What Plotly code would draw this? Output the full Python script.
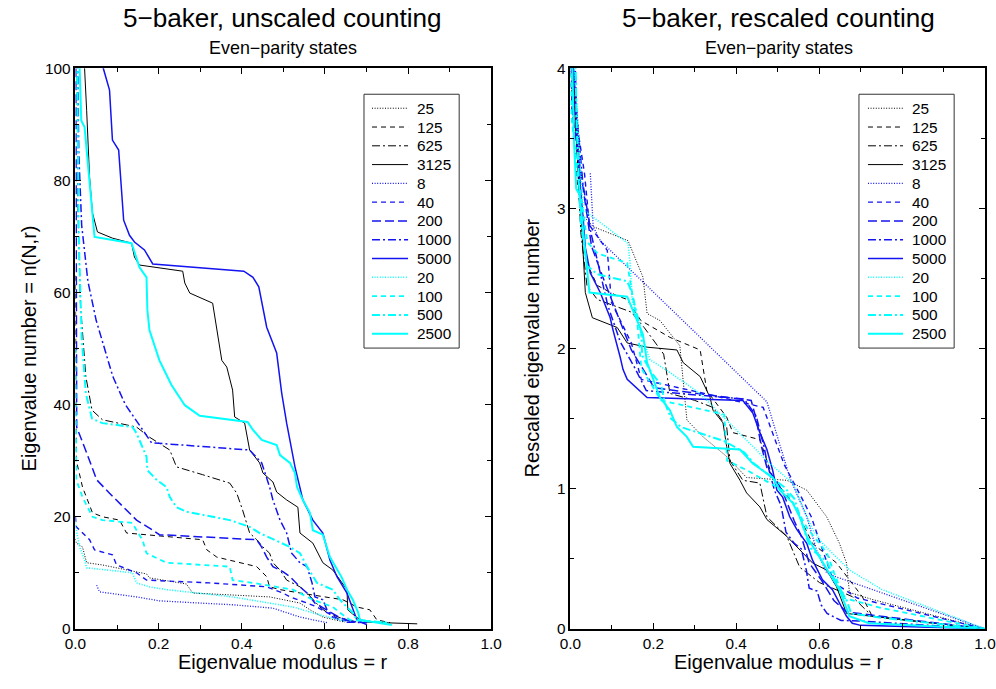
import plotly.graph_objects as go

# ---------------- data: left panel (unscaled counting) ----------------
left_r_25 = [0.0, 0.002, 0.017, 0.027, 0.065, 0.171, 0.178, 0.267, 0.282, 0.467, 0.540, 0.564, 0.595, 0.648]
left_n_25 = [16, 15.3, 14.6, 11.8, 11.4, 9.8, 9.1, 8.0, 6.4, 5.7, 4.6, 3.4, 2.1, 1.2]
left_r_125 = [0.0, 0.001, 0.002, 0.017, 0.041, 0.065, 0.106, 0.123, 0.171, 0.306, 0.316, 0.340, 0.436, 0.460, 0.467, 0.492, 0.540, 0.643, 0.677, 0.708, 0.725, 0.757]
left_n_125 = [63, 45, 30.1, 25.3, 20.7, 20.0, 19.4, 17.1, 16.8, 15.9, 14.1, 12.8, 11.1, 9.3, 7.5, 7.0, 6.4, 5.2, 3.9, 3.4, 1.6, 1.1]
left_r_625 = [0.003, 0.006, 0.012, 0.025, 0.040, 0.065, 0.147, 0.178, 0.227, 0.243, 0.306, 0.371, 0.388, 0.402, 0.419, 0.436, 0.451, 0.467, 0.475, 0.492, 0.508, 0.540, 0.557, 0.571, 0.588, 0.605, 0.636, 0.677]
left_n_625 = [110, 75, 58, 45, 39, 37.3, 36.0, 34.2, 31.9, 28.9, 27.5, 26.0, 24.2, 21.2, 17.1, 15.9, 14.6, 13.5, 11.8, 10.5, 8.7, 7.5, 6.4, 5.2, 3.9, 2.9, 2.0, 1.2]
left_r_3125 = [0.018, 0.022, 0.027, 0.034, 0.041, 0.053, 0.089, 0.135, 0.142, 0.154, 0.258, 0.263, 0.275, 0.330, 0.352, 0.364, 0.378, 0.383, 0.407, 0.419, 0.443, 0.451, 0.475, 0.484, 0.508, 0.535, 0.540, 0.571, 0.595, 0.619, 0.653, 0.655, 0.677, 0.701, 0.822]
left_n_3125 = [110, 100, 92.5, 80.6, 74.2, 70.8, 69.7, 68.8, 66.3, 64.9, 63.8, 61.7, 59.9, 58.1, 47.9, 46.7, 42.6, 37.8, 36.7, 31.9, 29.6, 27.8, 26.2, 24.4, 23.0, 21.7, 17.1, 15.3, 11.8, 10.5, 7.0, 3.4, 2.0, 1.2, 0.9]
left_r_8 = [0.051, 0.058, 0.147, 0.202, 0.300, 0.378, 0.475, 0.540, 0.605]
left_n_8 = [7.8, 6.6, 5.7, 5.0, 4.6, 4.3, 3.7, 2.1, 1.1]
left_r_40 = [0.0, 0.002, 0.034, 0.046, 0.089, 0.099, 0.147, 0.171, 0.323, 0.460, 0.499, 0.516, 0.557, 0.581, 0.605, 0.636, 0.692]
left_n_40 = [20, 18.2, 15.9, 14.1, 13.2, 11.4, 10.0, 8.7, 8.2, 7.5, 6.4, 5.7, 4.6, 3.9, 2.9, 1.6, 1.1]
left_r_200 = [0.001, 0.002, 0.003, 0.027, 0.051, 0.082, 0.123, 0.147, 0.186, 0.202, 0.436, 0.448, 0.460, 0.475, 0.499, 0.516, 0.540, 0.557, 0.576, 0.605, 0.636, 0.667]
left_n_200 = [100, 60, 36, 31.4, 26.6, 24.2, 21.2, 19.4, 17.6, 16.8, 15.9, 14.6, 12.8, 11.1, 10.2, 9.3, 7.5, 6.4, 4.6, 3.4, 2.0, 1.2]
left_r_1000 = [0.004, 0.008, 0.015, 0.030, 0.050, 0.070, 0.090, 0.120, 0.154, 0.183, 0.419, 0.448, 0.467, 0.475, 0.492, 0.508, 0.520, 0.540, 0.557, 0.569, 0.576, 0.595, 0.605, 0.619, 0.653, 0.701]
left_n_1000 = [110, 85, 72, 62, 55, 50, 45, 40, 36.4, 33.2, 31.9, 29.6, 25.3, 23.0, 19.4, 17.1, 13.5, 11.8, 11.1, 8.2, 5.7, 5.2, 3.4, 2.1, 1.2, 1.1]
left_r_5000 = [0.062, 0.067, 0.082, 0.089, 0.104, 0.116, 0.130, 0.142, 0.166, 0.186, 0.405, 0.427, 0.441, 0.451, 0.460, 0.484, 0.496, 0.508, 0.528, 0.547, 0.571, 0.595, 0.612, 0.629, 0.653, 0.677, 0.701]
left_n_5000 = [110, 100, 96.1, 87.2, 85.4, 72.9, 70.2, 69.0, 67.6, 65.1, 63.8, 62.7, 61.0, 56.9, 53.8, 49.2, 42.1, 36.7, 28.9, 23.0, 19.4, 17.1, 12.3, 9.3, 6.4, 1.6, 0.7]
left_r_20 = [0.0, 0.002, 0.010, 0.022, 0.027, 0.137, 0.147, 0.178, 0.219, 0.378, 0.523, 0.588, 0.648]
left_n_20 = [19, 17.6, 14.6, 12.3, 10.9, 10.0, 8.2, 7.5, 7.0, 5.7, 3.9, 2.5, 1.4]
left_r_100 = [0.0, 0.001, 0.002, 0.017, 0.041, 0.065, 0.137, 0.147, 0.161, 0.171, 0.219, 0.371, 0.378, 0.427, 0.523, 0.571, 0.619, 0.636, 0.660, 0.749]
left_n_100 = [50, 35, 26.6, 23.5, 20.0, 19.4, 18.9, 17.6, 15.9, 13.5, 11.8, 11.1, 8.7, 8.2, 7.0, 5.2, 3.9, 2.9, 1.6, 1.1]
left_r_500 = [0.003, 0.008, 0.015, 0.025, 0.040, 0.065, 0.137, 0.147, 0.171, 0.173, 0.195, 0.219, 0.227, 0.243, 0.267, 0.371, 0.419, 0.443, 0.516, 0.540, 0.557, 0.571, 0.581, 0.619, 0.636, 0.653, 0.667, 0.677, 0.749]
left_n_500 = [110, 70, 52, 42, 37.5, 36.7, 36.0, 34.9, 30.7, 28.3, 26.6, 25.3, 23.5, 21.7, 20.9, 19.4, 18.2, 17.1, 14.6, 13.5, 11.1, 9.3, 8.2, 7.0, 5.2, 3.9, 2.9, 1.6, 1.1]
left_r_2500 = [0.006, 0.010, 0.014, 0.022, 0.029, 0.039, 0.046, 0.135, 0.147, 0.154, 0.171, 0.173, 0.178, 0.202, 0.231, 0.263, 0.299, 0.414, 0.427, 0.448, 0.484, 0.492, 0.516, 0.528, 0.533, 0.547, 0.564, 0.571, 0.595, 0.612, 0.641, 0.653, 0.667, 0.680, 0.684, 0.761]
left_n_2500 = [110, 100, 90.7, 89.5, 83.6, 74.7, 69.9, 68.8, 66.3, 64.5, 62.7, 56.9, 53.3, 47.9, 43.5, 39.9, 38.0, 36.9, 35.5, 33.7, 32.8, 31.0, 29.6, 27.8, 25.3, 23.0, 20.7, 17.6, 16.8, 12.8, 9.1, 7.0, 5.2, 2.9, 1.6, 0.7]

# ---------------- data: right panel (rescaled counting) ----------------
right_r_25 = [0.0, 0.017, 0.027, 0.055, 0.139, 0.168, 0.175, 0.185, 0.216, 0.264, 0.281, 0.320, 0.377, 0.425, 0.522, 0.570, 0.618, 0.649, 0.666, 0.673, 0.728, 1.0]
right_n_25 = [4.0, 3.66, 2.96, 2.87, 2.77, 2.56, 2.51, 2.25, 2.20, 2.02, 1.49, 1.37, 1.23, 1.08, 1.06, 0.99, 0.80, 0.61, 0.47, 0.26, 0.21, 0.0]
right_r_125 = [0.001, 0.003, 0.017, 0.041, 0.065, 0.110, 0.137, 0.170, 0.240, 0.313, 0.329, 0.377, 0.392, 0.457, 0.488, 0.536, 0.584, 0.642, 0.704, 0.728, 1.0]
right_n_125 = [4.1, 3.75, 3.17, 2.60, 2.45, 2.38, 2.35, 2.20, 2.08, 1.99, 1.70, 1.51, 1.40, 1.35, 1.08, 0.90, 0.61, 0.47, 0.23, 0.09, 0.0]
right_r_625 = [0.003, 0.008, 0.012, 0.025, 0.040, 0.065, 0.147, 0.178, 0.225, 0.240, 0.300, 0.344, 0.377, 0.385, 0.416, 0.457, 0.474, 0.522, 0.553, 0.601, 0.680, 0.728, 1.0]
right_n_625 = [4.1, 4.0, 3.65, 2.83, 2.45, 2.35, 2.26, 2.15, 1.96, 1.68, 1.63, 1.58, 1.44, 1.20, 1.06, 1.04, 0.80, 0.66, 0.44, 0.33, 0.23, 0.09, 0.0]
right_r_3125 = [0.005, 0.012, 0.022, 0.027, 0.034, 0.036, 0.053, 0.113, 0.137, 0.185, 0.257, 0.272, 0.313, 0.337, 0.344, 0.368, 0.377, 0.385, 0.409, 0.425, 0.457, 0.474, 0.522, 0.560, 0.584, 0.618, 0.642, 0.666, 0.728, 1.0]
right_n_3125 = [4.1, 3.6, 3.14, 2.90, 2.53, 2.40, 2.22, 2.15, 2.04, 2.01, 1.99, 1.90, 1.80, 1.65, 1.56, 1.47, 1.30, 1.18, 1.06, 0.97, 0.87, 0.78, 0.66, 0.54, 0.47, 0.42, 0.30, 0.11, 0.09, 0.0]
right_r_8 = [0.048, 0.055, 0.072, 0.474, 0.529, 0.570, 0.594, 0.618, 0.642, 0.776, 1.0]
right_n_8 = [3.25, 2.87, 2.77, 1.62, 1.08, 0.80, 0.56, 0.40, 0.37, 0.23, 0.0]
right_r_40 = [0.001, 0.034, 0.046, 0.089, 0.099, 0.147, 0.171, 0.323, 0.465, 0.499, 0.516, 0.557, 0.581, 0.605, 0.636, 0.692, 1.0]
right_n_40 = [3.89, 3.25, 2.88, 2.70, 2.33, 2.04, 1.78, 1.68, 1.58, 1.31, 1.17, 0.94, 0.80, 0.59, 0.33, 0.22, 0.0]
right_r_200 = [0.002, 0.004, 0.027, 0.051, 0.082, 0.123, 0.147, 0.186, 0.202, 0.436, 0.448, 0.460, 0.475, 0.499, 0.516, 0.540, 0.557, 0.576, 0.605, 0.636, 0.667, 1.0]
right_n_200 = [4.1, 3.7, 3.22, 2.73, 2.48, 2.17, 1.99, 1.80, 1.72, 1.63, 1.50, 1.31, 1.14, 1.05, 0.95, 0.77, 0.66, 0.47, 0.35, 0.20, 0.12, 0.0]
right_r_1000 = [0.004, 0.008, 0.015, 0.030, 0.050, 0.070, 0.090, 0.120, 0.154, 0.183, 0.419, 0.448, 0.467, 0.475, 0.492, 0.508, 0.520, 0.540, 0.557, 0.569, 0.576, 0.595, 0.605, 0.619, 0.653, 0.701, 1.0]
right_n_1000 = [4.4, 4.36, 3.69, 3.18, 2.82, 2.56, 2.31, 2.05, 1.87, 1.70, 1.64, 1.52, 1.30, 1.18, 0.99, 0.88, 0.69, 0.61, 0.57, 0.42, 0.29, 0.27, 0.17, 0.11, 0.06, 0.056, 0.0]
right_r_5000 = [0.005, 0.012, 0.017, 0.024, 0.031, 0.036, 0.048, 0.072, 0.096, 0.103, 0.120, 0.127, 0.137, 0.168, 0.185, 0.416, 0.440, 0.457, 0.474, 0.488, 0.498, 0.512, 0.529, 0.546, 0.570, 0.584, 0.608, 0.632, 0.649, 0.666, 0.680, 0.700, 1.0]
right_n_5000 = [4.1, 3.82, 3.49, 3.15, 2.92, 2.72, 2.54, 2.40, 2.22, 2.13, 1.94, 1.85, 1.78, 1.70, 1.65, 1.63, 1.54, 1.40, 1.28, 1.13, 0.99, 0.94, 0.80, 0.71, 0.61, 0.49, 0.35, 0.28, 0.19, 0.09, 0.04, 0.025, 0.0]
right_r_20 = [0.004, 0.010, 0.022, 0.031, 0.139, 0.144, 0.149, 0.168, 0.192, 0.240, 0.312, 0.425, 0.481, 0.536, 0.570, 0.584, 0.608, 0.673, 0.752, 1.0]
right_n_20 = [4.1, 4.0, 3.39, 2.99, 2.75, 2.61, 2.35, 2.13, 1.92, 1.83, 1.68, 1.35, 1.18, 1.04, 0.80, 0.71, 0.61, 0.42, 0.28, 0.0]
right_r_100 = [0.001, 0.002, 0.017, 0.041, 0.065, 0.137, 0.147, 0.161, 0.171, 0.219, 0.371, 0.378, 0.427, 0.523, 0.571, 0.619, 0.636, 0.660, 0.749, 1.0]
right_n_100 = [4.8, 3.67, 3.25, 2.76, 2.68, 2.61, 2.43, 2.20, 1.86, 1.63, 1.53, 1.20, 1.13, 0.97, 0.72, 0.54, 0.40, 0.22, 0.15, 0.0]
right_r_500 = [0.003, 0.008, 0.015, 0.025, 0.040, 0.065, 0.137, 0.147, 0.171, 0.173, 0.195, 0.219, 0.227, 0.243, 0.267, 0.371, 0.419, 0.443, 0.516, 0.540, 0.557, 0.571, 0.581, 0.619, 0.636, 0.653, 0.667, 0.677, 0.749, 1.0]
right_n_500 = [5.0, 4.83, 3.59, 2.90, 2.59, 2.53, 2.48, 2.41, 2.12, 1.95, 1.83, 1.74, 1.62, 1.50, 1.44, 1.34, 1.26, 1.18, 1.01, 0.93, 0.77, 0.64, 0.57, 0.48, 0.36, 0.27, 0.20, 0.11, 0.08, 0.0]
right_r_2500 = [0.004, 0.008, 0.014, 0.022, 0.029, 0.039, 0.046, 0.137, 0.150, 0.160, 0.175, 0.185, 0.216, 0.240, 0.257, 0.281, 0.296, 0.409, 0.440, 0.488, 0.505, 0.536, 0.553, 0.570, 0.601, 0.618, 0.649, 0.673, 0.720, 1.0]
right_n_2500 = [4.1, 3.53, 3.14, 3.10, 2.89, 2.58, 2.40, 2.37, 2.28, 2.20, 2.10, 1.90, 1.65, 1.56, 1.44, 1.37, 1.30, 1.28, 1.18, 1.08, 0.99, 0.90, 0.80, 0.66, 0.51, 0.42, 0.28, 0.09, 0.04, 0.0]

series_labels = ["25", "125", "625", "3125", "8", "40", "200", "1000", "5000", "20", "100", "500", "2500"]

left_series = {
    "25": (left_r_25, left_n_25), "125": (left_r_125, left_n_125), "625": (left_r_625, left_n_625),
    "3125": (left_r_3125, left_n_3125), "8": (left_r_8, left_n_8), "40": (left_r_40, left_n_40),
    "200": (left_r_200, left_n_200), "1000": (left_r_1000, left_n_1000), "5000": (left_r_5000, left_n_5000),
    "20": (left_r_20, left_n_20), "100": (left_r_100, left_n_100), "500": (left_r_500, left_n_500),
    "2500": (left_r_2500, left_n_2500),
}
right_series = {
    "25": (right_r_25, right_n_25), "125": (right_r_125, right_n_125), "625": (right_r_625, right_n_625),
    "3125": (right_r_3125, right_n_3125), "8": (right_r_8, right_n_8), "40": (right_r_40, right_n_40),
    "200": (right_r_200, right_n_200), "1000": (right_r_1000, right_n_1000), "5000": (right_r_5000, right_n_5000),
    "20": (right_r_20, right_n_20), "100": (right_r_100, right_n_100), "500": (right_r_500, right_n_500),
    "2500": (right_r_2500, right_n_2500),
}

BLACK, BLUE, CYAN = "#000000", "#1414f0", "#00ffff"
DOT, DASH, LDASH, DDOT = "1px,1.6px", "5px,4px", "9px,4px", "8px,3px,2px,3px"
styles = {
    "25": (BLACK, DOT, 1.0), "125": (BLACK, DASH, 1.0), "625": (BLACK, DDOT, 1.0), "3125": (BLACK, "solid", 1.0),
    "8": (BLUE, DOT, 1.3), "40": (BLUE, DASH, 1.4), "200": (BLUE, LDASH, 1.5), "1000": (BLUE, DDOT, 1.5),
    "5000": (BLUE, "solid", 1.5),
    "20": (CYAN, DOT, 1.6), "100": (CYAN, DASH, 1.8), "500": (CYAN, DDOT, 2.0), "2500": (CYAN, "solid", 2.0),
}

fig = go.Figure()
for lab in series_labels:
    col, dash, w = styles[lab]
    r, n = left_series[lab]
    fig.add_trace(go.Scatter(x=r, y=n, mode="lines", name=lab, showlegend=False,
                             line=dict(color=col, dash=dash, width=w), xaxis="x", yaxis="y"))
for lab in series_labels:
    col, dash, w = styles[lab]
    r, n = right_series[lab]
    fig.add_trace(go.Scatter(x=r, y=n, mode="lines", name=lab, showlegend=False,
                             line=dict(color=col, dash=dash, width=w), xaxis="x2", yaxis="y2"))

W, H = 996, 689
FONT = "Liberation Sans, Arial, sans-serif"

# the captured page appears slightly shrunk and offset; place everything so it lands on target pixels
S, OX, OY = 0.976, 11.7, 8.7

def fx(p):
    return min(1.0, max(0.0, (p - OX) / S / W))

def fy(p):
    return min(1.0, max(0.0, 1 - (p - OY) / S / H))

def fs(size):
    return size / S

L0, L1 = fx(76), fx(491)
R0, R1 = fx(570), fx(986)
B0, T0 = fy(629), fy(68)

axis_common = dict(showline=True, linecolor="black", linewidth=1.6, mirror="ticks",
                   ticks="inside", ticklen=6, tickwidth=1, tickcolor="black",
                   showgrid=False, zeroline=False,
                   tickfont=dict(family=FONT, size=fs(15), color="black"))

fig.update_layout(
    width=W, height=H, margin=dict(l=0, r=0, t=0, b=0), autosize=False,
    paper_bgcolor="white", plot_bgcolor="white",
    font=dict(family=FONT, color="black"),
    showlegend=False,
    xaxis=dict(domain=[L0, L1], range=[0, 1], dtick=0.2, tickformat=".1f", anchor="y",
               minor=dict(ticks="inside", dtick=0.1, ticklen=4, tickcolor="black"), **axis_common),
    yaxis=dict(domain=[B0, T0], range=[0, 100], dtick=20, anchor="x",
               minor=dict(ticks="inside", dtick=10, ticklen=4, tickcolor="black"), **axis_common),
    xaxis2=dict(domain=[R0, R1], range=[0, 1], dtick=0.2, tickformat=".1f", anchor="y2",
                minor=dict(ticks="inside", dtick=0.1, ticklen=4, tickcolor="black"), **axis_common),
    yaxis2=dict(domain=[B0, T0], range=[0, 4], dtick=1, anchor="x2",
                minor=dict(ticks="inside", dtick=0.5, ticklen=4, tickcolor="black"), **axis_common),
)

ann = []
shapes = []

def txt(x, y, s, size, angle=0, xanchor="center"):
    ann.append(dict(x=fx(x), y=fy(y), xref="paper", yref="paper", text=s, showarrow=False,
                    font=dict(family=FONT, size=fs(size), color="black"), textangle=angle,
                    xanchor=xanchor, yanchor="middle"))

# titles and axis titles
txt(283, 18, "5\u2212baker, unscaled counting", 25.5)
txt(283, 48, "Even\u2212parity states", 17.5)
txt(778, 18, "5\u2212baker, rescaled counting", 25.5)
txt(778, 48, "Even\u2212parity states", 17.5)
txt(283, 662, "Eigenvalue modulus = r", 19.5)
txt(778, 662, "Eigenvalue modulus = r", 19.5)
txt(30, 348, "Eigenvalue number = n(N,r)", 19.5, -90)
txt(532, 348, "Rescaled eigenvalue number", 19.5, -90)

# legend boxes (drawn as shapes + text so the row spacing matches)
def legend_box(x_left, x_right, s0, s1, t0):
    shapes.append(dict(type="rect", xref="paper", yref="paper",
                       x0=fx(x_left), x1=fx(x_right), y0=fy(348), y1=fy(94),
                       line=dict(color="#333333", width=1), fillcolor="white", layer="above"))
    for i, lab in enumerate(series_labels):
        yy = 108 + 18.8 * i
        col, dash, w = styles[lab]
        shapes.append(dict(type="line", xref="paper", yref="paper",
                           x0=fx(s0), x1=fx(s1), y0=fy(yy), y1=fy(yy),
                           line=dict(color=col, dash=dash, width=w), layer="above"))
        txt(t0, yy, lab, 15, xanchor="left")

legend_box(364, 459, 372, 408, 415)
legend_box(858, 953, 867, 902, 909)

fig.update_layout(annotations=ann, shapes=shapes)

fig.write_html("out.html", config={"displayModeBar": False})

# remove the default page margin so the figure fills the window exactly
with open("out.html", "r", encoding="utf-8") as f:
    html = f.read()
html = html.replace("<head>", "<head><style>html,body{margin:0;padding:0;overflow:hidden;}</style>", 1)
with open("out.html", "w", encoding="utf-8") as f:
    f.write(html)
